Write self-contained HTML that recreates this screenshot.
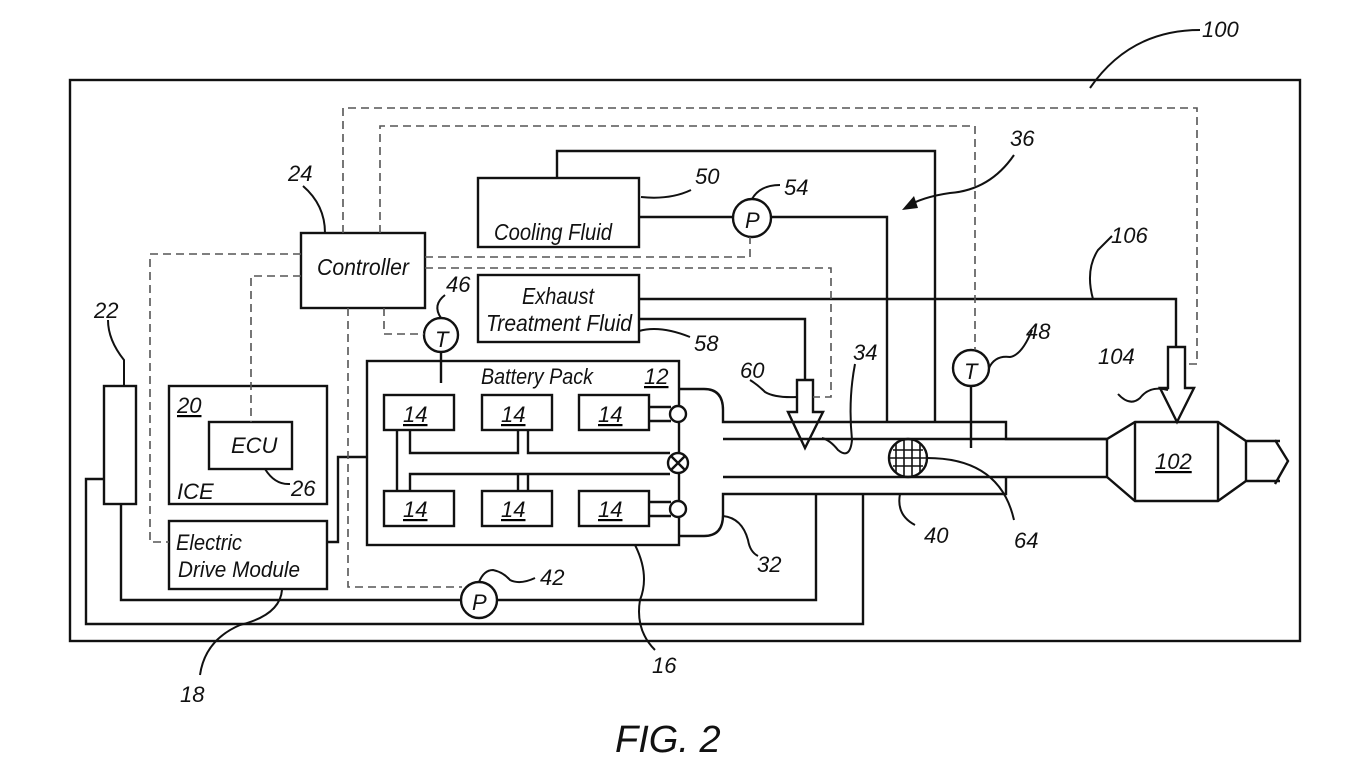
<!DOCTYPE html>
<html><head><meta charset="utf-8"><style>
html,body{margin:0;padding:0;background:#fff;}
svg{display:block;}
text{font-family:"Liberation Sans",sans-serif;font-style:italic;fill:#111;}
</style></head><body>
<svg width="1366" height="768" viewBox="0 0 1366 768" xmlns="http://www.w3.org/2000/svg">
<g fill="none" stroke="#111" stroke-width="2.4">
<rect x="70" y="80" width="1230" height="561"/>
<rect x="301" y="233" width="124" height="75"/>
<rect x="478" y="178" width="161" height="69"/>
<rect x="478" y="275" width="161" height="67"/>
<rect x="367" y="361" width="312" height="184"/>
<rect x="384" y="395" width="70" height="35"/>
<rect x="482" y="395" width="70" height="35"/>
<rect x="579" y="395" width="70" height="35"/>
<rect x="384" y="491" width="70" height="35"/>
<rect x="482" y="491" width="70" height="35"/>
<rect x="579" y="491" width="70" height="35"/>
<rect x="169" y="386" width="158" height="118"/>
<rect x="209" y="422" width="83" height="47"/>
<rect x="169" y="521" width="158" height="68"/>
<rect x="104" y="386" width="32" height="118"/>
<path d="M410 430V453H518V430M528 430V453H670"/>
<path d="M397 430V491M410 491V474H670M518 491V474M528 474V491"/>
<path d="M649 407H671M649 421H671M649 502H671M649 516H671"/>
<circle cx="678" cy="414" r="8" fill="#fff"/>
<circle cx="678" cy="509" r="8" fill="#fff"/>
<circle cx="678" cy="463" r="10" fill="#fff"/>
<path d="M671 456L685 470M685 456L671 470"/>
<path d="M327 542H338V457H367"/>
<path d="M557 178V151H935V422"/>
<path d="M639 217H732M772 217H887V422"/>
<circle cx="752" cy="218" r="19"/>
<path d="M639 299H1176V347"/>
<path d="M639 319H805V380"/>
<path d="M797 380V412H788L805 448L823 412H813V380Z" fill="#fff"/>
<path d="M1168 347V388H1160L1177 422L1194 388H1185V347Z" fill="#fff"/>
<path d="M679 389H704Q723 389 723 410V422H1006V439H1107L1135 422H1218L1246 441H1280"/>
<path d="M723 439H1107"/>
<path d="M723 477H1107"/>
<path d="M679 536H704Q723 536 723 515V494H1006V477"/>
<path d="M1107 439V477L1135 501H1218L1246 481H1280"/>
<path d="M1135 422V501M1218 422V501M1246 441V481"/>
<path d="M1275 440L1288 461L1275 484"/>
<circle cx="441" cy="335" r="17"/>
<path d="M441 352V383"/>
<circle cx="971" cy="368" r="18"/>
<path d="M971 386V448"/>
<circle cx="908" cy="458" r="19"/>
<path d="M896 443V473M904 439V477M912 439V477M920 443V473M893 450H923M890 458H926M893 466H923" stroke-width="1.6"/>
<path d="M816 494V600H497M461 600H121V504"/>
<circle cx="479" cy="600" r="18"/>
<path d="M863 494V624H86V479H104"/>
</g>
<g fill="none" stroke="#555" stroke-width="1.6" stroke-dasharray="8,5">
<path d="M343 233V108H1197V364H1185"/>
<path d="M380 233V126H975V350"/>
<path d="M425 257H750V237"/>
<path d="M425 268H831V397H813"/>
<path d="M301 254H150V542H169"/>
<path d="M301 276H251V422"/>
<path d="M384 308V334H424"/>
<path d="M348 308V587H462"/>
</g>
<g fill="none" stroke="#111" stroke-width="2">
<path d="M1090 88Q1130 30 1200 30"/>
<path d="M303 186Q325 205 325 233"/>
<path d="M124 386V360Q108 340 108 320"/>
<path d="M641 197Q670 200 691 190"/>
<path d="M752 199Q760 185 780 185"/>
<path d="M1014 155Q990 190 950 193Q922 197 906 207"/>
<path d="M639 331Q660 325 690 337"/>
<path d="M1093 299Q1085 270 1098 250Q1108 240 1112 236"/>
<path d="M441 318Q432 305 445 295"/>
<path d="M989 368Q995 355 1010 357Q1022 355 1032 330"/>
<path d="M1168 390Q1150 385 1140 398Q1130 407 1118 394"/>
<path d="M797 397Q775 398 765 392Q758 385 750 380"/>
<path d="M855 364Q848 400 852 440Q850 460 838 450Q830 440 822 438"/>
<path d="M927 458Q1000 458 1014 520"/>
<path d="M900 494Q896 515 915 525"/>
<path d="M723 516Q742 518 748 540Q750 552 758 556"/>
<path d="M282 590Q280 615 240 625Q205 640 200 675"/>
<path d="M635 545Q650 575 640 600Q635 630 655 650"/>
<path d="M265 469Q275 485 290 484"/>
<path d="M479 582Q484 570 493 570Q503 572 510 580Q520 585 535 578"/>
</g>
<path d="M902 210L914 196L918 208Z" fill="#111"/>
<g font-size="22">
<text x="317" y="275" font-size="23" textLength="92" lengthAdjust="spacingAndGlyphs">Controller</text>
<text x="494" y="240" font-size="23" textLength="118" lengthAdjust="spacingAndGlyphs">Cooling Fluid</text>
<text x="522" y="304" font-size="23" textLength="72" lengthAdjust="spacingAndGlyphs">Exhaust</text>
<text x="486" y="331" font-size="23" textLength="146" lengthAdjust="spacingAndGlyphs">Treatment Fluid</text>
<text x="481" y="384" font-size="22" textLength="112" lengthAdjust="spacingAndGlyphs">Battery Pack</text>
<text x="231" y="453" font-size="22">ECU</text>
<text x="177" y="499" font-size="22">ICE</text>
<text x="176" y="550" font-size="22" textLength="66" lengthAdjust="spacingAndGlyphs">Electric</text>
<text x="178" y="577" font-size="22" textLength="122" lengthAdjust="spacingAndGlyphs">Drive Module</text>
<g font-size="22" text-decoration="underline">
<text x="403" y="422">14</text><text x="501" y="422">14</text><text x="598" y="422">14</text>
<text x="403" y="517">14</text><text x="501" y="517">14</text><text x="598" y="517">14</text>
<text x="644" y="384">12</text><text x="177" y="413">20</text><text x="1155" y="469">102</text>
</g>
<text x="1202" y="37">100</text>
<text x="288" y="181">24</text>
<text x="94" y="318">22</text>
<text x="695" y="184">50</text>
<text x="784" y="195">54</text>
<text x="1010" y="146">36</text>
<text x="1111" y="243">106</text>
<text x="446" y="292">46</text>
<text x="694" y="351">58</text>
<text x="740" y="378">60</text>
<text x="853" y="360">34</text>
<text x="1026" y="339">48</text>
<text x="1098" y="364">104</text>
<text x="291" y="496">26</text>
<text x="757" y="572">32</text>
<text x="924" y="543">40</text>
<text x="1014" y="548">64</text>
<text x="540" y="585">42</text>
<text x="180" y="702">18</text>
<text x="652" y="673">16</text>
<text x="435" y="347" font-size="22">T</text>
<text x="964" y="379" font-size="22">T</text>
<text x="745" y="228" font-size="22">P</text>
<text x="472" y="610" font-size="22">P</text>
</g>
<text x="615" y="752" font-size="38">FIG. 2</text>
</svg>
</body></html>
